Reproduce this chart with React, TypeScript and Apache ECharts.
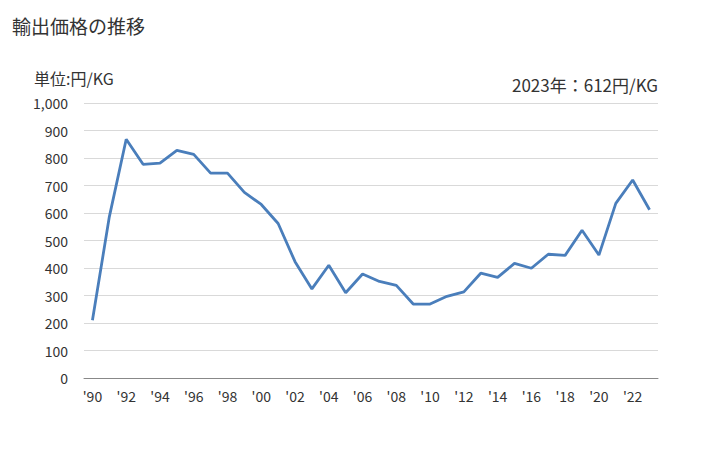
import React, { useEffect, useRef } from "react";
import * as echarts from "echarts";

const years = [
  "1990","1991","1992","1993","1994","1995","1996","1997","1998","1999",
  "2000","2001","2002","2003","2004","2005","2006","2007","2008","2009",
  "2010","2011","2012","2013","2014","2015","2016","2017","2018","2019",
  "2020","2021","2022","2023",
];
const prices = [
  210, 586, 868, 777, 781, 828, 813, 745, 745, 675,
  631, 562, 423, 324, 410, 310, 378, 351, 337, 269,
  269, 297, 313, 381, 366, 417, 399, 450, 446, 537,
  447, 635, 720, 612,
];
const titleText = "輸出価格の推移";
const unitText = "単位:円/KG";
const latestText = "2023年：612円/KG";

const FONT = "'Noto Sans CJK JP', 'Noto Sans', sans-serif";

export default function App() {
  const ref = useRef<HTMLDivElement>(null);
  useEffect(() => {
    if (!ref.current) return;
    const chart = echarts.init(ref.current, undefined, { renderer: "svg" });
    chart.setOption({
      animation: false,
      textStyle: { fontFamily: FONT },
      grid: { left: 84, right: 70, top: 103, bottom: 72 },
      graphic: [
        { type: "text", left: 12, top: 16, style: { text: titleText, font: `19px ${FONT}`, fill: "#333" } },
        { type: "text", left: 34, top: 70, style: { text: unitText, font: `16px ${FONT}`, fill: "#333" } },
        { type: "text", right: 70, top: 76, style: { text: latestText, font: `17px ${FONT}`, fill: "#333" } },
      ],
      xAxis: {
        type: "category",
        data: years,
        boundaryGap: true,
        axisLine: { lineStyle: { color: "#888" } },
        axisTick: { show: false },
        axisLabel: {
          interval: 1,
          color: "#333",
          fontSize: 14,
          margin: 11,
          formatter: (v: string) => "'" + v.slice(2),
        },
      },
      yAxis: {
        type: "value",
        min: 0,
        max: 1000,
        interval: 100,
        axisLine: { show: false },
        axisTick: { show: false },
        splitLine: { lineStyle: { color: "#d9d9d9" } },
        axisLabel: {
          color: "#333",
          fontSize: 14,
          margin: 16,
          formatter: (v: number) => v.toLocaleString("en-US"),
        },
      },
      series: [
        {
          type: "line",
          data: prices,
          symbol: "none",
          lineStyle: { color: "#4a7ebb", width: 2.8 },
        },
      ],
    });
    return () => chart.dispose();
  }, []);
  return <div ref={ref} style={{ width: 728, height: 450, position: "absolute", left: 0, top: 0 }} />;
}
